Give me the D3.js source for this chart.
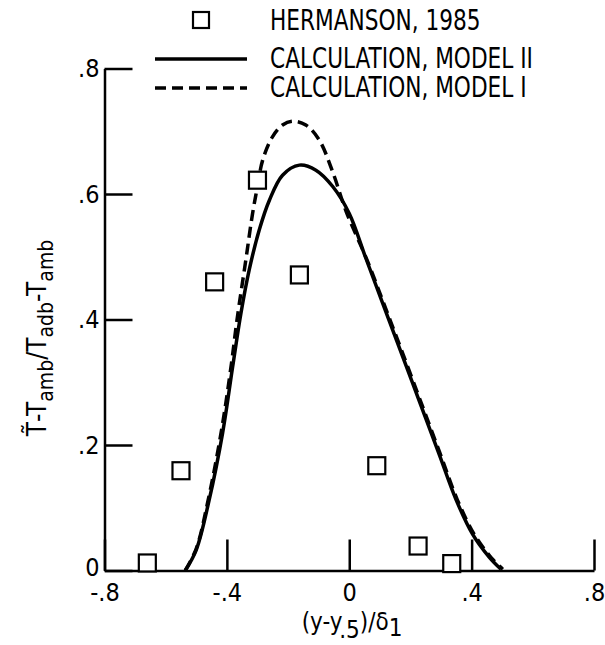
<!DOCTYPE html>
<html>
<head>
<meta charset="utf-8">
<script src="https://cdn.jsdelivr.net/npm/d3@7"></script>
<style>
body { margin: 0; background: #fff; }
text { font-family: "Liberation Sans Narrow", "DejaVu Sans Condensed", "Liberation Sans", sans-serif; fill: #000; }
</style>
</head>
<body>
<svg id="chart" width="605" height="645"></svg>
<script>
////////////////////////////////////////////////////////////////////////
//
// Data
//
////////////////////////////////////////////////////////////////////////
var xTicks = [-0.8, -0.4, 0, 0.4, 0.8];
var xTickLabels = ["-.8", "-.4", "0", ".4", ".8"];
var yTicks = [0, 0.2, 0.4, 0.6, 0.8];
var yTickLabels = ["0", ".2", ".4", ".6", ".8"];

//Hermanson, 1985 measurements
var hermansonX = [-0.66, -0.55, -0.44, -0.30, -0.163, 0.09, 0.225, 0.335];
var hermansonY = [0.012, 0.159, 0.46, 0.622, 0.471, 0.167, 0.039, 0.011];

//Calculation, model II (solid)
var model2X = [-0.536, -0.50, -0.458, -0.414, -0.381, -0.354, -0.327, -0.294, -0.261, -0.218, -0.163, -0.109, -0.054, 0, 0.054, 0.11, 0.163, 0.229, 0.294, 0.349, 0.403, 0.458, 0.496];
var model2Y = [0, 0.033, 0.112, 0.219, 0.325, 0.41, 0.479, 0.543, 0.590, 0.630, 0.646, 0.638, 0.612, 0.569, 0.498, 0.425, 0.356, 0.27, 0.185, 0.113, 0.058, 0.021, 0.002];

//Calculation, model I (dashed)
var model1X = [-0.536, -0.50, -0.46, -0.417, -0.385, -0.367, -0.338, -0.316, -0.30, -0.283, -0.251, -0.218, -0.185, -0.142, -0.098, -0.054, -0.01, 0.058, 0.114, 0.167, 0.233, 0.298, 0.353, 0.408, 0.463, 0.502];
var model1Y = [0, 0.035, 0.115, 0.225, 0.33, 0.399, 0.495, 0.569, 0.612, 0.654, 0.691, 0.71, 0.716, 0.71, 0.686, 0.635, 0.572, 0.495, 0.424, 0.356, 0.27, 0.185, 0.113, 0.058, 0.021, 0.002];

var legendLabels = ["HERMANSON, 1985", "CALCULATION, MODEL II", "CALCULATION, MODEL I"];


////////////////////////////////////////////////////////////////////////
//
// Draw the chart
//
////////////////////////////////////////////////////////////////////////
function drawChart()
  {
  var svg = d3.select("#chart");

  var x = d3.scaleLinear().domain([-0.8, 0.8]).range([104.5, 594]);
  var y = d3.scaleLinear().domain([0, 0.8]).range([570.5, 68.5]);

  //x axis, ticks pointing up
  var xAxis = svg.append("g")
    .attr("transform", "translate(0," + y(0) + ")")
    .call(d3.axisBottom(x)
      .tickValues(xTicks)
      .tickFormat(function(d, i) { return xTickLabels[i]; })
      .tickSizeInner(-31)
      .tickSizeOuter(0)
      .tickPadding(13));

  //y axis, ticks pointing right
  var yAxis = svg.append("g")
    .attr("transform", "translate(" + x(-0.8) + ",0)")
    .call(d3.axisLeft(y)
      .tickValues(yTicks)
      .tickFormat(function(d, i) { return yTickLabels[i]; })
      .tickSizeInner(-28)
      .tickSizeOuter(0)
      .tickPadding(5));

  [xAxis, yAxis].forEach(function(a)
    {
    a.selectAll("path, line").attr("stroke", "#000").attr("stroke-width", 2.5);
    a.selectAll("text").attr("font-size", 25).attr("fill", "#000")
      .style("font-family", "'Liberation Sans Narrow', 'DejaVu Sans Condensed', sans-serif");
    });
  yAxis.selectAll(".tick text").attr("dy", "0.33em");
  //lift the 0 a little so it clears the -.8 below it
  yAxis.selectAll(".tick text").filter(function(d) { return d === 0; }).attr("dy", "0.18em");

  //curves
  var line = d3.line()
    .x(function(d) { return x(d[0]); })
    .y(function(d) { return y(d[1]); })
    .curve(d3.curveCatmullRom.alpha(0.5));

  var model2 = d3.zip(model2X, model2Y);
  var model1 = d3.zip(model1X, model1Y);

  svg.append("path")
    .attr("d", line(model1))
    .attr("fill", "none")
    .attr("stroke", "#000")
    .attr("stroke-width", 3.5)
    .attr("stroke-dasharray", "11,6");

  svg.append("path")
    .attr("d", line(model2))
    .attr("fill", "none")
    .attr("stroke", "#000")
    .attr("stroke-width", 3.5);

  //data squares
  var size = 17;
  svg.selectAll("rect.pt")
    .data(d3.zip(hermansonX, hermansonY))
    .enter()
    .append("rect")
    .attr("class", "pt")
    .attr("x", function(d) { return x(d[0]) - size / 2; })
    .attr("y", function(d) { return y(d[1]) - size / 2; })
    .attr("width", size)
    .attr("height", size)
    .attr("fill", "#fff")
    .attr("stroke", "#000")
    .attr("stroke-width", 2.2);

  //legend
  var legend = svg.append("g");
  legend.append("rect")
    .attr("x", 193).attr("y", 12).attr("width", 16).attr("height", 16)
    .attr("fill", "#fff").attr("stroke", "#000").attr("stroke-width", 2.2);
  legend.append("line")
    .attr("x1", 155).attr("x2", 247).attr("y1", 59).attr("y2", 59)
    .attr("stroke", "#000").attr("stroke-width", 3.5);
  legend.append("line")
    .attr("x1", 155).attr("x2", 247).attr("y1", 88).attr("y2", 88)
    .attr("stroke", "#000").attr("stroke-width", 3.5)
    .attr("stroke-dasharray", "11,6");

  //legend text is squeezed sideways to look like the condensed original
  var rowsY = [20, 58, 87];
  var squeeze = 0.86;
  legend.selectAll("text")
    .data(legendLabels)
    .enter()
    .append("text")
    .attr("transform", "translate(270,0) scale(" + squeeze + ",1)")
    .attr("x", 0)
    .attr("y", function(d, i) { return rowsY[i]; })
    .attr("dy", "0.36em")
    .attr("font-size", 28)
    .text(function(d) { return d; });

  //y label
  var yl = svg.append("text")
    .attr("transform", "translate(46,338) rotate(-90)")
    .attr("text-anchor", "middle")
    .attr("font-size", 26);
  yl.append("tspan").text("T\u0303-T");
  yl.append("tspan").attr("font-size", 21).attr("dy", 7).text("amb");
  yl.append("tspan").attr("dy", -7).text("/T");
  yl.append("tspan").attr("font-size", 21).attr("dy", 7).text("adb");
  yl.append("tspan").attr("dy", -7).text("-T");
  yl.append("tspan").attr("font-size", 21).attr("dy", 7).text("amb");

  //x label
  var xl = svg.append("text")
    .attr("x", 352)
    .attr("y", 630)
    .attr("text-anchor", "middle")
    .attr("font-size", 24);
  xl.append("tspan").text("(y-y");
  xl.append("tspan").attr("dy", 8).text(".5");
  xl.append("tspan").attr("dy", -8).text(")/\u03b4");
  xl.append("tspan").attr("dy", 6).text("1");

  return;
  }

drawChart();
</script>
</body>
</html>
